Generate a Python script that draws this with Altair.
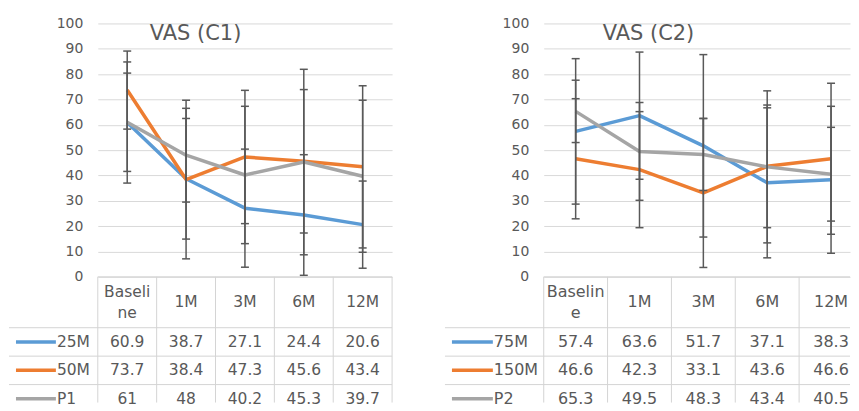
import altair as alt
import pandas as pd

# ---------------- data ----------------
categories = ["Baseline", "1M", "3M", "6M", "12M"]
c1_header = ["Baseli\nne", "1M", "3M", "6M", "12M"]
c2_header = ["Baselin\ne", "1M", "3M", "6M", "12M"]

c1_series = ["25M", "50M", "P1"]
c1_25M = [60.9, 38.7, 27.1, 24.4, 20.6]
c1_50M = [73.7, 38.4, 47.3, 45.6, 43.4]
c1_P1 = [61, 48, 40.2, 45.3, 39.7]
c1_25M_sd = [23.9, 23.8, 23.3, 23.8, 17.2]
c1_50M_sd = [15.4, 31.3, 26.3, 28.3, 32.0]
c1_P1_sd = [19.4, 18.5, 27.1, 36.6, 30.0]

c2_series = ["75M", "150M", "P2"]
c2_75M = [57.4, 63.6, 51.7, 37.1, 38.3]
c2_150M = [46.6, 42.3, 33.1, 43.6, 46.6]
c2_P2 = [65.3, 49.5, 48.3, 43.4, 40.5]
c2_75M_sd = [28.7, 25.1, 36.0, 29.6, 29.0]
c2_150M_sd = [23.7, 22.9, 29.4, 24.2, 29.8]
c2_P2_sd = [12.3, 19.3, 14.2, 30.0, 18.5]

y_ticks = [0, 10, 20, 30, 40, 50, 60, 70, 80, 90, 100]

# ---------------- style ----------------
COLORS = ["#5B9BD5", "#ED7D31", "#A5A5A5"]
FONT = "DejaVu Sans"
TEXT_COLOR = "#595959"
GRID_COLOR = "#D9D9D9"
BORDER_COLOR = "#D4D4D4"
ERR_COLOR = "#595959"

PLOT_H = 254
TABLE_H = 126
ROW_PX = 28.5
HDR_PX = 51
HDR = HDR_PX / ROW_PX            # header height in row units
TABLE_ROWS = TABLE_H / ROW_PX    # table height in row units
LINE_H = 21 / ROW_PX             # header line spacing in row units


def build_panel(title, series, means, sds, header, plot_w, unit_px,
                legend_px, key_px, text_px, title_px, fsize):
    x_max = plot_w / unit_px
    recs = []
    for si, name in enumerate(series):
        for ci, cat in enumerate(categories):
            m = means[si][ci]
            e = sds[si][ci]
            recs.append({"series": name, "si": si, "cat": cat, "pos": ci + 0.5,
                         "mean": m, "lo": m - e, "hi": m + e, "label": str(m),
                         "row": HDR + si + 0.5})
    df = pd.DataFrame(recs)

    xs = alt.Scale(domain=[0, x_max], nice=False, zero=False)
    ys = alt.Scale(domain=[0, 100], nice=False, zero=False)
    color = alt.Color("series:N", scale=alt.Scale(domain=series, range=COLORS), legend=None)
    base = alt.Chart(df)

    yaxis = alt.Axis(values=y_ticks, domain=False, ticks=False,
                     labelPadding=15, grid=True, gridColor=GRID_COLOR, gridWidth=1,
                     labelOverlap=False, labelFlush=False, tickCount=11,
                     labelFont=FONT, labelFontSize=14, labelColor=TEXT_COLOR)

    xenc = alt.X("pos:Q", scale=xs, axis=None)
    lines = base.mark_line(strokeWidth=3.5, strokeJoin="round").encode(
        x=xenc, y=alt.Y("mean:Q", scale=ys, axis=yaxis, title=None),
        color=color, detail="series:N", order="pos:Q")
    err = base.mark_rule(color=ERR_COLOR, strokeWidth=1.5).encode(
        x=xenc, y=alt.Y("lo:Q", scale=ys, axis=yaxis, title=None), y2="hi:Q")
    cap_lo = base.mark_tick(orient="horizontal", size=8, thickness=1.5, color=ERR_COLOR, opacity=1).encode(
        x=xenc, y=alt.Y("lo:Q", scale=ys, axis=yaxis, title=None))
    cap_hi = base.mark_tick(orient="horizontal", size=8, thickness=1.5, color=ERR_COLOR, opacity=1).encode(
        x=xenc, y=alt.Y("hi:Q", scale=ys, axis=yaxis, title=None))
    ttl = alt.Chart(pd.DataFrame({"t": [title]})).mark_text(
        font=FONT, fontSize=21, color=TEXT_COLOR, align="center", baseline="alphabetic").encode(
        x=alt.value(title_px[0]), y=alt.value(title_px[1]), text="t:N")

    plot = alt.layer(lines, err, cap_lo, cap_hi, ttl).properties(width=plot_w, height=PLOT_H)

    # ---------------- data table ----------------
    ty = alt.Scale(domain=[0, TABLE_ROWS], reverse=True, nice=False, zero=False)
    legend_u = legend_px / unit_px

    hdr_recs = []
    for ci, h in enumerate(header):
        parts = h.split("\n")
        n = len(parts)
        for k, p in enumerate(parts):
            hdr_recs.append({"pos": ci + 0.5, "txt": p,
                             "y": HDR / 2 + (k - (n - 1) / 2) * LINE_H})
    hdr_text = alt.Chart(pd.DataFrame(hdr_recs)).mark_text(
        font=FONT, fontSize=fsize, color=TEXT_COLOR).encode(
        x=alt.X("pos:Q", scale=xs, axis=None), y=alt.Y("y:Q", scale=ty, axis=None), text="txt:N")

    cells = base.mark_text(font=FONT, fontSize=fsize, color=TEXT_COLOR).encode(
        x=alt.X("pos:Q", scale=xs, axis=None), y=alt.Y("row:Q", scale=ty, axis=None), text="label:N")

    key_df = pd.DataFrame({"series": series,
                           "row": [HDR + i + 0.5 for i in range(len(series))],
                           "x1": [-key_px[0] / unit_px] * len(series),
                           "x2": [-key_px[1] / unit_px] * len(series),
                           "tx": [-text_px / unit_px] * len(series)})
    keys = alt.Chart(key_df).mark_rule(strokeWidth=3.5).encode(
        x=alt.X("x1:Q", scale=xs, axis=None), x2="x2:Q",
        y=alt.Y("row:Q", scale=ty, axis=None), color=color)
    key_text = alt.Chart(key_df).mark_text(font=FONT, fontSize=fsize, color=TEXT_COLOR, align="left").encode(
        x=alt.X("tx:Q", scale=xs, axis=None), y=alt.Y("row:Q", scale=ty, axis=None), text="series:N")

    h_rows = [{"y": 0, "x1": 0, "x2": x_max}]
    for i in range(len(series)):
        h_rows.append({"y": HDR + i, "x1": -legend_u, "x2": x_max})
    hlines = alt.Chart(pd.DataFrame(h_rows)).mark_rule(color=BORDER_COLOR, strokeWidth=1).encode(
        x=alt.X("x1:Q", scale=xs, axis=None), x2="x2:Q", y=alt.Y("y:Q", scale=ty, axis=None))
    v_rows = [{"x": float(i), "y1": 0, "y2": TABLE_ROWS}
              for i in range(len(categories) + 1) if i <= x_max]
    vlines = alt.Chart(pd.DataFrame(v_rows)).mark_rule(color=BORDER_COLOR, strokeWidth=1).encode(
        x=alt.X("x:Q", scale=xs, axis=None), y=alt.Y("y1:Q", scale=ty, axis=None), y2="y2:Q")

    table = alt.layer(hlines, vlines, hdr_text, cells, keys, key_text).properties(
        width=plot_w, height=TABLE_H)
    return plot, table


c1_plot, c1_table = build_panel(
    "VAS (C1)", c1_series, [c1_25M, c1_50M, c1_P1], [c1_25M_sd, c1_50M_sd, c1_P1_sd],
    c1_header, plot_w=295, unit_px=59, legend_px=89, key_px=(82, 42), text_px=41,
    title_px=(98, 17), fsize=15.5)
c2_plot, c2_table = build_panel(
    "VAS (C2)", c2_series, [c2_75M, c2_150M, c2_P2], [c2_75M_sd, c2_150M_sd, c2_P2_sd],
    c2_header, plot_w=307, unit_px=64, legend_px=99, key_px=(92, 51), text_px=50,
    title_px=(105, 17), fsize=16)

chart = alt.concat(
    c1_plot, c2_plot, c1_table, c2_table,
    columns=2, spacing={"row": 0, "column": 152}, bounds="flush", align="each"
).properties(
    padding={"left": 0, "top": 8, "right": 0, "bottom": 0}
).configure_view(stroke=None)

chart.save("out.html", embed_options={"renderer": "svg", "actions": False})
